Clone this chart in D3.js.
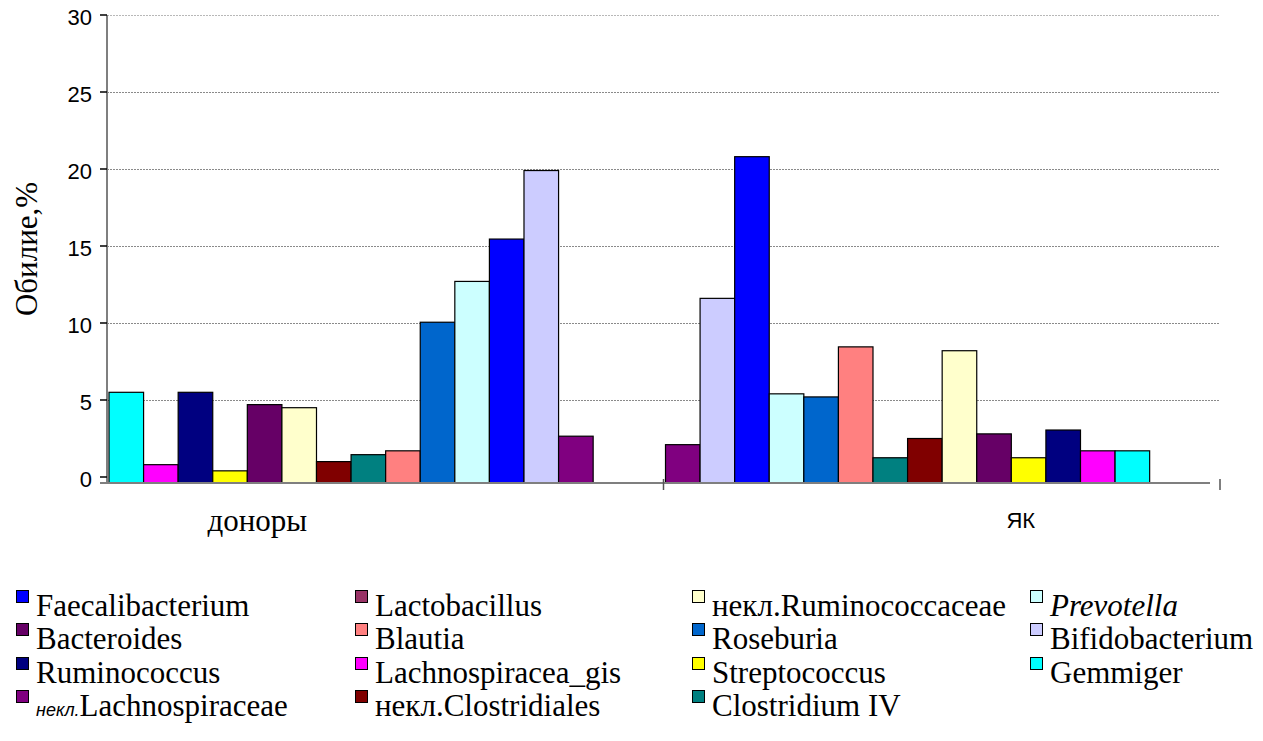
<!DOCTYPE html>
<html>
<head>
<meta charset="utf-8">
<script src="https://cdn.jsdelivr.net/npm/d3@7"></script>
<style>
html,body{margin:0;padding:0;background:#fff;}
svg{display:block;}
</style>
</head>
<body>
<svg id="chart" width="1263" height="741"></svg>
<script>
// ---------- DATA ----------
const groups = ["доноры", "ЯК"];
const taxa = [
  "Faecalibacterium", "Lactobacillus", "некл.Ruminococcaceae", "Prevotella",
  "Bacteroides", "Blautia", "Roseburia", "Bifidobacterium",
  "Ruminococcus", "Lachnospiracea_gis", "Streptococcus", "Gemmiger",
  "некл.Lachnospiraceae", "некл.Clostridiales", "Clostridium IV"
];
const taxaColors = [
  "#0000FF", "#993366", "#FFFFCC", "#CCFFFF",
  "#660066", "#FF8080", "#0066CC", "#CCCCFF",
  "#000080", "#FF00FF", "#FFFF00", "#00FFFF",
  "#800080", "#800000", "#008080"
];
// abundance, % (same order as taxa); null = no bar
const valuesDonors = [15.45, null, 4.5, 12.7, 4.7, 1.7, 10.05, 19.9, 5.5, 0.8, 0.4, 5.5, 2.65, 1.0, 1.45];
const valuesUC     = [20.8, null, 8.2, 5.4, 2.8, 8.45, 5.2, 11.6, 3.05, 1.7, 1.25, 1.7, 2.1, 2.5, 1.25];
// order in which bars appear inside each group
const orderDonors = ["Gemmiger", "Lachnospiracea_gis", "Ruminococcus", "Streptococcus", "Bacteroides",
  "некл.Ruminococcaceae", "некл.Clostridiales", "Clostridium IV", "Blautia", "Roseburia",
  "Prevotella", "Faecalibacterium", "Bifidobacterium", "некл.Lachnospiraceae"];
const orderUC = ["некл.Lachnospiraceae", "Bifidobacterium", "Faecalibacterium", "Prevotella", "Roseburia",
  "Blautia", "Clostridium IV", "некл.Clostridiales", "некл.Ruminococcaceae", "Bacteroides",
  "Streptococcus", "Ruminococcus", "Lachnospiracea_gis", "Gemmiger"];
const yTicks = [0, 5, 10, 15, 20, 25, 30];
const yTitle = "Обилие,%";

// ---------- DRAW ----------
(function draw() {
const svg = d3.select("#chart");
const pL = 107, pR = 1220, pT = 15, zeroY = 477;
const baseY = 483;
const serif = "Liberation Serif, Times New Roman, serif";
const sans = "Liberation Sans, Arial, sans-serif";

const y = d3.scaleLinear().domain([0, 30]).range([zeroY, pT]);
const xGroup = d3.scaleBand().domain(groups).range([pL, pR]).paddingInner(0).paddingOuter(0);
const color = d3.scaleOrdinal().domain(taxa).range(taxaColors);

const groupData = [
  {g: groups[0], order: orderDonors, vals: valuesDonors},
  {g: groups[1], order: orderUC, vals: valuesUC}
];

// gridlines
svg.append("g").selectAll("line").data(yTicks.filter(t => t > 0)).join("line")
  .attr("x1", pL).attr("x2", pR)
  .attr("y1", d => y(d) + 0.5).attr("y2", d => y(d) + 0.5)
  .attr("stroke", d => d === 30 ? "#b8b8b8" : "#8a8a8a")
  .attr("stroke-width", 1)
  .attr("stroke-dasharray", "2,1");

// bars
groupData.forEach(gd => {
  const g0 = xGroup(gd.g);
  const inner = d3.scaleBand().domain(gd.order)
    .range([g0 + 2, g0 + 2 + xGroup.bandwidth() * 0.87]).padding(0);
  const rows = gd.order.map(name => ({name, v: gd.vals[taxa.indexOf(name)]})).filter(d => d.v != null);
  svg.append("g").selectAll("rect").data(rows).join("rect")
    .attr("x", d => inner(d.name))
    .attr("y", d => y(d.v))
    .attr("width", inner.bandwidth())
    .attr("height", d => baseY - y(d.v))
    .attr("fill", d => color(d.name))
    .attr("stroke", "#000")
    .attr("stroke-width", 1.2);
});

// x axis line
svg.append("line").attr("x1", pL - 7).attr("x2", pR - 10)
  .attr("y1", baseY).attr("y2", baseY)
  .attr("stroke", "#7f7f7f").attr("stroke-width", 2);
// category boundary ticks
svg.append("g").selectAll("line").data(groups.slice(1).map(g => xGroup(g)).concat([pR])).join("line")
  .attr("x1", d => d).attr("x2", d => d)
  .attr("y1", baseY - 4).attr("y2", baseY + 7)
  .attr("stroke", "#555").attr("stroke-width", 1.5);

// y axis
svg.append("line").attr("x1", pL).attr("x2", pL)
  .attr("y1", pT).attr("y2", baseY + 1)
  .attr("stroke", "#7f7f7f").attr("stroke-width", 2);
const yt = svg.append("g").selectAll("g").data(yTicks).join("g");
yt.append("line").attr("x1", pL - 7).attr("x2", pL)
  .attr("y1", d => y(d)).attr("y2", d => y(d))
  .attr("stroke", "#000").attr("stroke-width", 1.5);
yt.append("text").attr("x", pL - 15).attr("y", d => y(d) + 4)
  .attr("text-anchor", "end").attr("dominant-baseline", "middle")
  .attr("font-family", sans).attr("font-size", 22)
  .text(d => d);

// y title
svg.append("text")
  .attr("transform", `translate(37,${(pT + zeroY) / 2 + 3}) rotate(-90)`)
  .attr("text-anchor", "middle")
  .attr("font-family", serif).attr("font-size", 31)
  .text(yTitle);

// category labels
svg.append("text").attr("x", xGroup(groups[0]) + xGroup.bandwidth() / 2 - 128).attr("y", 531)
  .attr("text-anchor", "middle")
  .attr("font-family", serif).attr("font-size", 31)
  .text(groups[0]);
svg.append("text").attr("x", xGroup(groups[1]) + xGroup.bandwidth() / 2 + 79).attr("y", 528)
  .attr("text-anchor", "middle")
  .attr("font-family", sans).attr("font-size", 22)
  .text(groups[1]);

// legend
const colX = [16, 355, 692, 1030];
const rowY = [590, 623, 657, 690];
const leg = svg.append("g").selectAll("g").data(taxa).join("g")
  .attr("transform", (d, i) => `translate(${colX[i % 4]},${rowY[Math.floor(i / 4)]})`);
leg.append("rect").attr("x", 0.5).attr("y", 0.5).attr("width", 12).attr("height", 12)
  .attr("fill", d => color(d)).attr("stroke", "#000").attr("stroke-width", 1);
leg.each(function(d) {
  const t = d3.select(this).append("text").attr("x", 20).attr("y", 26)
    .attr("font-family", serif).attr("font-size", 31);
  if (d === "некл.Lachnospiraceae") {
    t.append("tspan").attr("font-family", sans)
      .attr("font-style", "italic").attr("font-size", 18).text("некл.");
    t.append("tspan").text(d.replace("некл.", ""));
  } else if (d === "Prevotella") {
    t.attr("font-style", "italic").text(d);
  } else {
    t.text(d);
  }
});
})();
</script>
</body>
</html>
